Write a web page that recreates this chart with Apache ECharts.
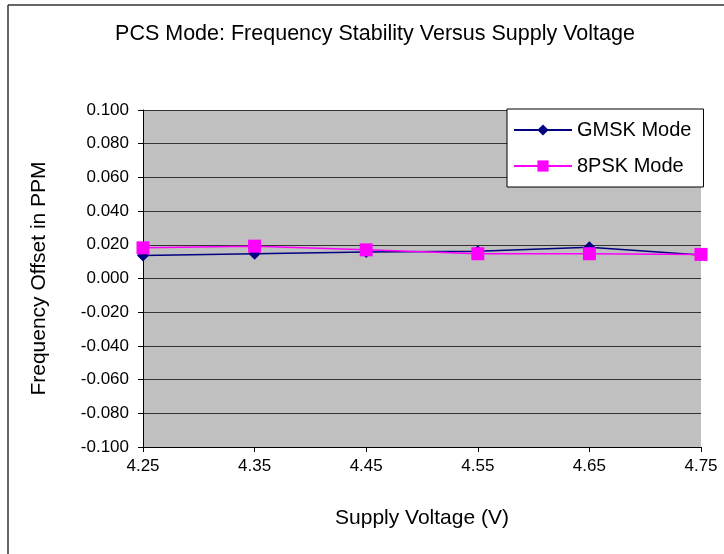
<!DOCTYPE html>
<html><head><meta charset="utf-8">
<script src="https://cdn.jsdelivr.net/npm/echarts@6/dist/echarts.min.js"></script>
<style>html,body{margin:0;padding:0;background:#fff}#c{width:724px;height:554px}</style>
</head><body><div id="c"></div>
<script>
const categories = ['4.25','4.35','4.45','4.55','4.65','4.75'];
const gmsk = [0.0137, 0.0147, 0.0157, 0.0162, 0.0186, 0.0139];
const psk8 = [0.0182, 0.0192, 0.0170, 0.0147, 0.0147, 0.0143];
const yMin = -0.1, yMax = 0.1, yStep = 0.02;
const font = 'Liberation Sans, Arial, sans-serif';
const chart = echarts.init(document.getElementById('c'), null, {renderer:'canvas'});
chart.setOption({
  animation:false,
  backgroundColor:'#fff',
  title:{text:'PCS Mode: Frequency Stability Versus Supply Voltage', left:370, textAlign:'center', top:18,
    textStyle:{fontFamily:font, fontSize:21.5, fontWeight:'normal', color:'#000'}},
  graphic:[
    {type:'line', shape:{x1:8,y1:5,x2:724,y2:5}, style:{stroke:'#333',lineWidth:1.5}},
    {type:'line', shape:{x1:8,y1:5,x2:8,y2:554}, style:{stroke:'#333',lineWidth:1.5}}
  ],
  grid:{left:143, right:23, top:110, bottom:107, show:true, backgroundColor:'#C0C0C0', borderWidth:0},
  legend:{orient:'vertical', left:507, top:109, width:194, backgroundColor:'#fff', borderColor:'#000', borderWidth:1,
    padding:[11,12,11,6], itemGap:16, itemWidth:58, itemHeight:14,
    textStyle:{fontFamily:font, fontSize:20, color:'#000'}, data:['GMSK Mode','8PSK Mode']},
  xAxis:{type:'category', data:categories, boundaryGap:false,
    name:'Supply Voltage (V)', nameLocation:'middle', nameGap:61,
    nameTextStyle:{fontFamily:font, fontSize:21, color:'#000'},
    axisLine:{onZero:false, lineStyle:{color:'#000', width:1}}, axisTick:{show:true, length:5, lineStyle:{color:'#000'}},
    axisLabel:{fontFamily:font, fontSize:17, color:'#000', margin:11}, splitLine:{show:false}},
  yAxis:{type:'value', min:yMin, max:yMax, interval:yStep,
    name:'Frequency Offset in PPM', nameLocation:'middle', nameGap:93,
    nameTextStyle:{fontFamily:font, fontSize:21, color:'#000'},
    axisLine:{show:true, lineStyle:{color:'#000', width:1}}, axisTick:{show:true, length:5, lineStyle:{color:'#000'}},
    axisLabel:{fontFamily:font, fontSize:17, color:'#000', margin:14, formatter:v=>v.toFixed(3)},
    splitLine:{show:true, lineStyle:{color:'#333', width:1}}},
  series:[
    {name:'GMSK Mode', type:'line', data:gmsk, symbol:'diamond', symbolSize:12, color:'#000080',
      lineStyle:{color:'#000080', width:1.5}, itemStyle:{color:'#000080'}},
    {name:'8PSK Mode', type:'line', data:psk8, symbol:'rect', symbolSize:13, color:'#FF00FF',
      lineStyle:{color:'#FF00FF', width:1.5}, itemStyle:{color:'#FF00FF'}}
  ]
});
</script></body></html>
